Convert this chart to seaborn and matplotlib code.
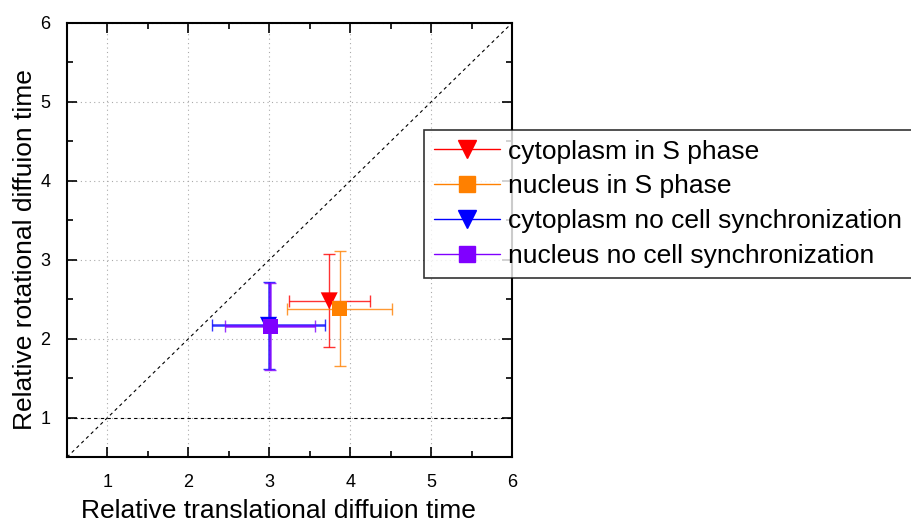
import pandas as pd
import matplotlib.pyplot as plt
import seaborn as sns
from matplotlib.lines import Line2D
from matplotlib.ticker import MultipleLocator

labels = ['cytoplasm in S phase', 'nucleus in S phase',
          'cytoplasm no cell synchronization', 'nucleus no cell synchronization']
trans = [3.74, 3.87, 2.99, 3.01]
trans_err = [0.50, 0.65, 0.70, 0.56]
rot = [2.48, 2.38, 2.17, 2.16]
rot_err = [0.59, 0.73, 0.55, 0.55]
colors = ['#ff0000', '#ff8000', '#0000ff', '#8000ff']
markers = ['v', 's', 'v', 's']
marker_area = [150, 115, 150, 115]

df = pd.DataFrame({'label': labels, 'x': trans, 'xerr': trans_err,
                   'y': rot, 'yerr': rot_err})

sns.set_style('ticks')
plt.rcParams['font.family'] = ['Liberation Sans', 'DejaVu Sans']
plt.rcParams['text.color'] = 'black'
plt.rcParams['axes.labelcolor'] = 'black'
plt.rcParams['xtick.color'] = 'black'
plt.rcParams['ytick.color'] = 'black'

fig = plt.figure(figsize=(9.12, 5.27), dpi=100)
ax = fig.add_axes([0.0735, 0.1325, 0.488, 0.824])

# reference lines: y = x and y = 1
ax.plot([0.5, 6], [0.5, 6], color='black', ls=(0, (3, 3)), lw=0.8)
ax.axhline(1, color='black', ls=(0, (3, 3)), lw=0.8)

for i, row in df.iterrows():
    ax.errorbar(row['x'], row['y'], xerr=row['xerr'], yerr=row['yerr'],
                fmt='none', ecolor=colors[i], elinewidth=1.8 if i >= 2 else 1.0,
                capsize=4, capthick=1.0, alpha=0.8, zorder=3)

sns.scatterplot(data=df, x='x', y='y', hue='label', style='label', size='label',
                palette=dict(zip(labels, colors)),
                markers=dict(zip(labels, markers)),
                sizes=dict(zip(labels, marker_area)),
                edgecolor='none', legend=False, ax=ax, zorder=4)

ax.set_xlim(0.5, 6)
ax.set_ylim(0.5, 6)
ax.xaxis.set_major_locator(MultipleLocator(1))
ax.yaxis.set_major_locator(MultipleLocator(1))
ax.xaxis.set_minor_locator(MultipleLocator(0.5))
ax.yaxis.set_minor_locator(MultipleLocator(0.5))
ax.tick_params(which='both', direction='in', top=True, right=True, width=1.2)
ax.tick_params(which='major', length=7, labelsize=13, pad=12)
ax.tick_params(which='minor', length=4)
ax.grid(True, which='major', color='#aaaaaa', ls=(0, (1, 3)), lw=0.8)
for sp in ax.spines.values():
    sp.set_linewidth(1.5)
    sp.set_color('black')

ax.set_xlabel('Relative translational diffuion time', fontsize=19)
ax.set_ylabel('Relative rotational diffuion time', fontsize=19)
ax.xaxis.set_label_coords(0.474, -0.097)
ax.yaxis.set_label_coords(-0.067, 0.477)

handles = [Line2D([0], [0], color=c, marker=m, markersize=13 if m == 'v' else 11, lw=1.0)
           for c, m in zip(colors, markers)]
leg = fig.legend(handles, labels, loc='upper left', bbox_to_anchor=(0.465, 0.754),
                 fontsize=19, frameon=True, fancybox=False, edgecolor='black',
                 handlelength=2.5, labelspacing=0.41, borderpad=0.38,
                 handletextpad=0.3, borderaxespad=0)
leg.get_frame().set_linewidth(1.2)

fig.savefig('out.png', dpi=100)
